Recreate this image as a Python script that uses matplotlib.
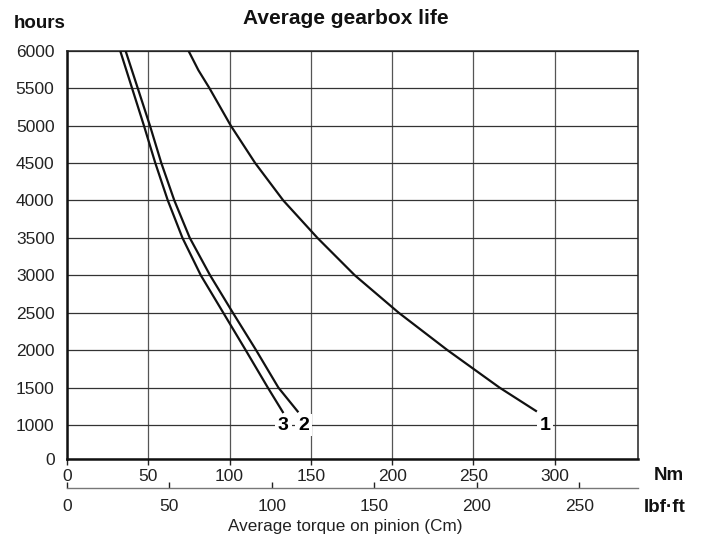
import numpy as np
import matplotlib
matplotlib.use("Agg")
import matplotlib.pyplot as plt

plt.rcParams['font.family'] = ['Liberation Sans', 'DejaVu Sans']
FAM = ['Liberation Sans', 'DejaVu Sans']

# ---- data ----
curve1_nm = [74.7, 80.8, 87.6, 100.7, 115.7, 133.0, 154.0, 177.0, 204.0, 234.0, 266.0, 289.0]
curve1_h = [6000, 5740, 5500, 5000, 4500, 4000, 3500, 3000, 2500, 2000, 1500, 1180]

curve2_nm = [36.0, 43.5, 51.0, 58.0, 66.0, 75.5, 88.0, 102.0, 116.3, 130.0, 142.3]
curve2_h = [6000, 5500, 5000, 4500, 4000, 3500, 3000, 2500, 2000, 1500, 1170]

curve3_nm = [32.7, 40.0, 47.3, 54.3, 62.0, 71.0, 82.3, 96.1, 109.9, 123.5, 133.1]
curve3_h = [6000, 5500, 5000, 4500, 4000, 3500, 3000, 2500, 2000, 1500, 1160]

curve_labels = ['1', '2', '3']
label_nm = [294, 145.5, 133]
label_h = [1000, 1000, 1000]

y_ticks = [0, 1000, 1500, 2000, 2500, 3000, 3500, 4000, 4500, 5000, 5500, 6000]
nm_ticks = [0, 50, 100, 150, 200, 250, 300]
lbf_ticks = [0, 50, 100, 150, 200, 250]
NM_PER_LBF = 1.26  # as drawn on the reference scale

# ---- figure ----
fig = plt.figure(figsize=(7.02, 5.45), dpi=100)
ax = fig.add_axes([67/702, 86/545, (637.7-67)/702, (459-50.7)/545])

def fwd(v):
    v = np.asarray(v, dtype=float)
    return np.where(v >= 1000, v, 1000 - (1000 - v) * 0.454)

def inv(u):
    u = np.asarray(u, dtype=float)
    return np.where(u >= 1000, u, 1000 - (1000 - u) / 0.454)

ax.set_yscale('function', functions=(fwd, inv))
ax.set_ylim(0, 6000)
ax.set_xlim(0, 351)

for xs, ys in [(curve1_nm, curve1_h), (curve2_nm, curve2_h), (curve3_nm, curve3_h)]:
    ax.plot(xs, ys, color='#111111', lw=1.6, solid_capstyle='butt',
            solid_joinstyle='round', zorder=3)

for t, x, y in zip(curve_labels, label_nm, label_h):
    ax.text(x, y, t, ha='center', va='center', fontsize=14, fontweight='bold',
            family=FAM, zorder=4,
            bbox=dict(boxstyle='square,pad=0.15', fc='white', ec='none'))

ax.set_yticks(y_ticks)
ax.set_yticklabels([str(v) for v in y_ticks])
ax.set_xticks(nm_ticks)
ax.set_xticklabels([str(v) for v in nm_ticks])
ax.tick_params(axis='y', length=0, pad=9, labelsize=12.5, colors='#222222')
ax.tick_params(axis='x', length=4, width=1, pad=3, labelsize=12.5, colors='#222222')

ax.xaxis.grid(True, color='#555555', lw=0.9)
ax.yaxis.grid(True, color='#333333', lw=0.9)
ax.set_axisbelow(True)

for s in ['left', 'bottom']:
    ax.spines[s].set_linewidth(1.8)
    ax.spines[s].set_color('#111111')
for s in ['top', 'right']:
    ax.spines[s].set_linewidth(1.1)
    ax.spines[s].set_color('#222222')

sec = ax.secondary_xaxis((459-488)/(459-50.7),
                         functions=(lambda x: x / NM_PER_LBF, lambda x: x * NM_PER_LBF))
sec.set_xticks(lbf_ticks)
sec.set_xticklabels([str(v) for v in lbf_ticks])
sec.tick_params(direction='in', length=4, width=1, pad=8, labelsize=12.5,
                colors='#222222')
sec.spines['bottom'].set_color('#777777')
sec.spines['bottom'].set_linewidth(1.0)

fig.text(346/702, 1 - 18/545, 'Average gearbox life', ha='center', va='center',
         fontsize=15, fontweight='bold', family=FAM, color='#111111')
fig.text(14/702, 1 - 23/545, 'hours', ha='left', va='center',
         fontsize=13.5, fontweight='bold', family=FAM, color='#111111')
fig.text(669/702, 1 - 476/545, 'Nm', ha='center', va='center',
         fontsize=13.5, fontweight='bold', family=FAM, color='#111111')
fig.text(665/702, 1 - 507/545, 'lbf·ft', ha='center', va='center',
         fontsize=13.5, fontweight='bold', family=FAM, color='#111111')
fig.text(345.6/702, 1 - 526/545, 'Average torque on pinion (Cm)', ha='center',
         va='center', fontsize=12.3, family=FAM, color='#222222')

fig.savefig('out.png', dpi=100)
